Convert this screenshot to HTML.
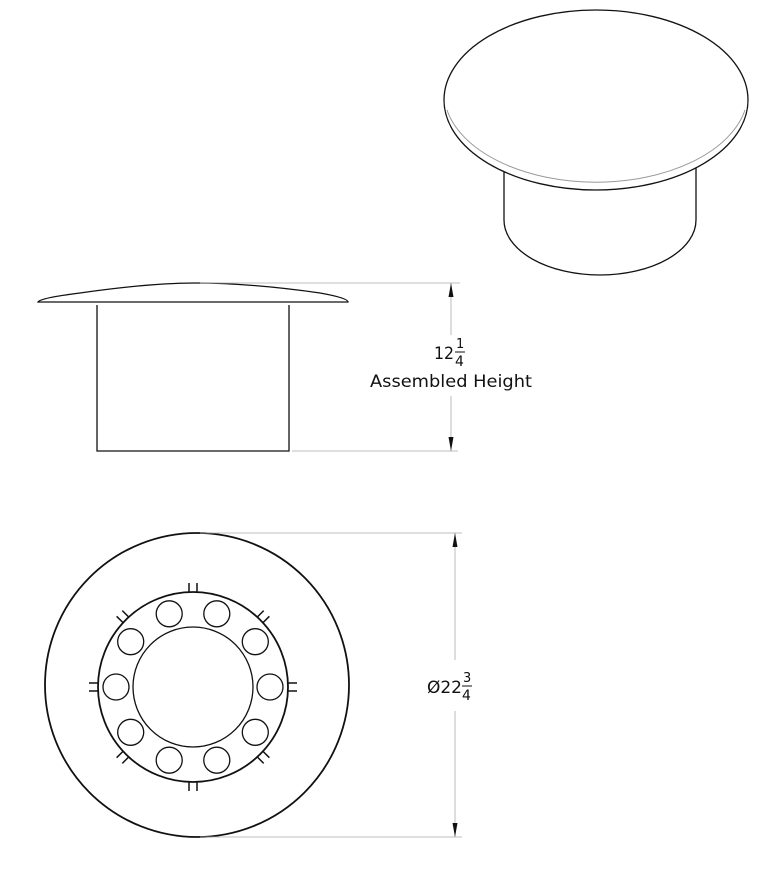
<!DOCTYPE html>
<html><head><style>html,body{margin:0;padding:0;background:#fff;width:767px;height:874px;overflow:hidden}</style></head>
<body>
<svg width="767" height="874" xmlns="http://www.w3.org/2000/svg" style="display:block">
<g fill="none" stroke="#111" stroke-width="1.3">
 <path d="M504 168 L504 220 A96 55 0 0 0 696 220 L696 168"/>
 <ellipse cx="596" cy="100" rx="152" ry="90" fill="#fff"/>
 <path d="M447 110 A152 90 0 0 0 745 110" stroke="#999" stroke-width="1"/>
 <path d="M38 302 Q40 298 80 293 Q150 283 195 283 Q250 283 320 293 Q348 298 348 302 Z" fill="#fff"/>
 <path d="M97 305 L97 451 L289 451 L289 305"/>
 <circle cx="197" cy="685" r="152" stroke-width="1.8"/>
 <circle cx="193" cy="687" r="95" stroke-width="1.8"/>
 <circle cx="193" cy="687" r="60"/>
 <g transform="translate(193 687)">
  <circle cx="77" cy="0" r="13"/><circle cx="62.3" cy="45.3" r="13"/><circle cx="23.8" cy="73.2" r="13"/>
  <circle cx="-23.8" cy="73.2" r="13"/><circle cx="-62.3" cy="45.3" r="13"/><circle cx="-77" cy="0" r="13"/>
  <circle cx="-62.3" cy="-45.3" r="13"/><circle cx="-23.8" cy="-73.2" r="13"/><circle cx="23.8" cy="-73.2" r="13"/>
  <circle cx="62.3" cy="-45.3" r="13"/>
  <g stroke-width="1.5">
   <g id="tk"><line x1="-4" y1="-95" x2="-4" y2="-104"/><line x1="4" y1="-95" x2="4" y2="-104"/></g>
   <use href="#tk" transform="rotate(45)"/><use href="#tk" transform="rotate(90)"/><use href="#tk" transform="rotate(135)"/>
   <use href="#tk" transform="rotate(180)"/><use href="#tk" transform="rotate(225)"/><use href="#tk" transform="rotate(270)"/>
   <use href="#tk" transform="rotate(315)"/>
  </g>
 </g>
</g>
<g stroke="#aaa" stroke-width="0.8" fill="none">
 <line x1="200" y1="283" x2="460" y2="283"/>
 <line x1="292" y1="451" x2="458" y2="451"/>
 <line x1="451" y1="283" x2="451" y2="335"/>
 <line x1="451" y1="396" x2="451" y2="451"/>
 <line x1="200" y1="533" x2="462" y2="533"/>
 <line x1="200" y1="837" x2="462" y2="837"/>
 <line x1="455" y1="533" x2="455" y2="660"/>
 <line x1="455" y1="711" x2="455" y2="837"/>
</g>
<g fill="#111">
 <path d="M451 283 L448.5 297 L453.5 297 Z"/><path d="M451 451 L448.5 437 L453.5 437 Z"/>
 <path d="M455 533 L452.5 547 L457.5 547 Z"/><path d="M455 837 L452.5 823 L457.5 823 Z"/>
</g>
<g font-family="DejaVu Sans, Liberation Sans, sans-serif" fill="#111">
 <text x="434" y="359" font-size="17" textLength="20" lengthAdjust="spacingAndGlyphs">12</text>
 <text x="456" y="348" font-size="13">1</text>
 <line x1="455" y1="352" x2="465" y2="352" stroke="#111" stroke-width="1"/>
 <text x="455" y="366" font-size="14">4</text>
 <text x="370" y="387" font-size="17" textLength="162" lengthAdjust="spacingAndGlyphs">Assembled Height</text>
 <text x="427" y="693" font-size="17" textLength="35" lengthAdjust="spacingAndGlyphs">Ø22</text>
 <text x="463" y="682" font-size="13">3</text>
 <line x1="462" y1="686" x2="472" y2="686" stroke="#111" stroke-width="1"/>
 <text x="462" y="700" font-size="14">4</text>
</g>
</svg>
</body></html>
